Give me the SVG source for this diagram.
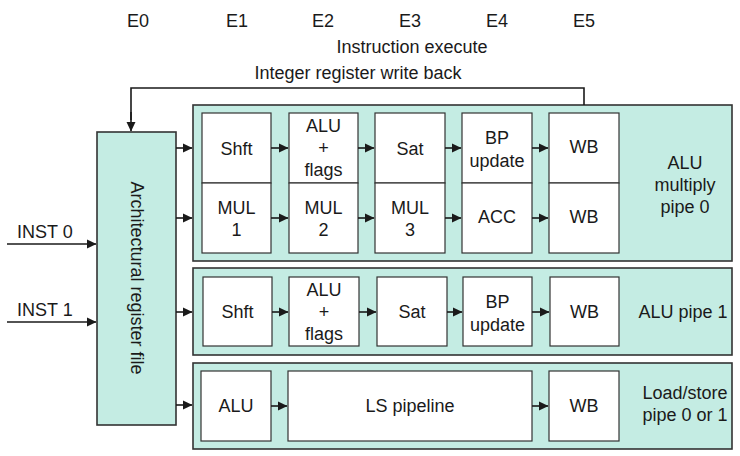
<svg xmlns="http://www.w3.org/2000/svg" width="740" height="456" viewBox="0 0 740 456">
<defs>
<marker id="ah" markerWidth="10" markerHeight="10" refX="9" refY="5" orient="auto" markerUnits="userSpaceOnUse">
<path d="M0,0.5 L9.5,5 L0,9.5 Z" fill="#1a1a1a"/>
</marker>
</defs>
<style>
text{font-family:"Liberation Sans",Arial,sans-serif;font-size:18px;fill:#1a1a1a}
.c{text-anchor:middle}
.teal{fill:#c4ece3;stroke:#333;stroke-width:1.6}
.box{fill:#fff;stroke:#333;stroke-width:1.2}
.ln{stroke:#1a1a1a;stroke-width:1.6;fill:none}
.ar{stroke:#1a1a1a;stroke-width:1.6;fill:none;marker-end:url(#ah)}
</style>
<rect width="740" height="456" fill="#fff"/>
<g id="stage-labels">
<text class="c" x="138" y="27">E0</text>
<text class="c" x="237" y="27">E1</text>
<text class="c" x="323" y="27">E2</text>
<text class="c" x="410" y="27">E3</text>
<text class="c" x="497" y="27">E4</text>
<text class="c" x="584" y="27">E5</text>
<text class="c" x="412" y="53">Instruction execute</text>
<text class="c" x="358" y="79">Integer register write back</text>
</g>
<g id="pipe0">
<rect class="teal" x="193" y="105" width="539" height="156"/>
<text class="c" x="685" y="169">ALU</text>
<text class="c" x="685" y="191">multiply</text>
<text class="c" x="685" y="213">pipe 0</text>
</g>
<g id="pipe1">
<rect class="teal" x="193" y="268" width="539" height="87"/>
<text class="c" x="683" y="318">ALU pipe 1</text>
</g>
<g id="lspipe">
<rect class="teal" x="193" y="363" width="539" height="86"/>
<text class="c" x="685" y="399">Load/store</text>
<text class="c" x="685" y="421">pipe 0 or 1</text>
</g>
<g id="regfile">
<rect class="teal" x="97" y="132" width="79" height="293"/>
<text class="c" transform="translate(131,278) rotate(90)">Architectural register file</text>
</g>
<g id="p0-shft"><rect class="box" x="202" y="113" width="69" height="70"/><text class="c" x="236.5" y="155">Shft</text></g>
<g id="p0-alu"><rect class="box" x="289" y="113" width="69" height="70"/><text class="c" x="323.5" y="132">ALU</text><text class="c" x="323.5" y="154">+</text><text class="c" x="323.5" y="176">flags</text></g>
<g id="p0-sat"><rect class="box" x="375" y="113" width="70" height="70"/><text class="c" x="410" y="155">Sat</text></g>
<g id="p0-bp"><rect class="box" x="462" y="113" width="70" height="70"/><text class="c" x="497" y="144">BP</text><text class="c" x="497" y="167">update</text></g>
<g id="p0-wb"><rect class="box" x="549" y="113" width="70" height="70"/><text class="c" x="584" y="153">WB</text></g>
<g id="p0-mul1"><rect class="box" x="202" y="183" width="69" height="70"/><text class="c" x="236.5" y="214">MUL</text><text class="c" x="236.5" y="236">1</text></g>
<g id="p0-mul2"><rect class="box" x="289" y="183" width="69" height="70"/><text class="c" x="323.5" y="214">MUL</text><text class="c" x="323.5" y="236">2</text></g>
<g id="p0-mul3"><rect class="box" x="375" y="183" width="70" height="70"/><text class="c" x="410" y="214">MUL</text><text class="c" x="410" y="236">3</text></g>
<g id="p0-acc"><rect class="box" x="462" y="183" width="70" height="70"/><text class="c" x="497" y="223">ACC</text></g>
<g id="p0-wb2"><rect class="box" x="549" y="183" width="70" height="70"/><text class="c" x="584" y="223">WB</text></g>
<g id="p1-shft"><rect class="box" x="203" y="277" width="69" height="69"/><text class="c" x="237.5" y="318">Shft</text></g>
<g id="p1-alu"><rect class="box" x="289" y="277" width="70" height="69"/><text class="c" x="324" y="296">ALU</text><text class="c" x="324" y="318">+</text><text class="c" x="324" y="340">flags</text></g>
<g id="p1-sat"><rect class="box" x="377" y="277" width="70" height="69"/><text class="c" x="412" y="318">Sat</text></g>
<g id="p1-bp"><rect class="box" x="463" y="277" width="69" height="69"/><text class="c" x="497.5" y="308">BP</text><text class="c" x="497.5" y="331">update</text></g>
<g id="p1-wb"><rect class="box" x="550" y="277" width="69" height="69"/><text class="c" x="584.5" y="318">WB</text></g>
<g id="ls-alu"><rect class="box" x="201" y="371" width="70" height="70"/><text class="c" x="236" y="412">ALU</text></g>
<g id="ls-pipe"><rect class="box" x="288" y="371" width="244" height="70"/><text class="c" x="410" y="412">LS pipeline</text></g>
<g id="ls-wb"><rect class="box" x="549" y="371" width="70" height="70"/><text class="c" x="584" y="412">WB</text></g>
<g id="inputs">
<text x="17" y="238">INST 0</text>
<text x="17" y="316">INST 1</text>
</g>
<g id="connectors">
<path class="ar" d="M7,244 H96"/>
<path class="ar" d="M7,322 H96"/>
<path class="ln" d="M584,105 V88 H131 V120"/>
<path class="ar" d="M131,112 V131"/>
<path class="ar" d="M176,148 H192"/>
<path class="ar" d="M176,218 H192"/>
<path class="ar" d="M176,312 H192"/>
<path class="ar" d="M176,405 H192"/>
<path class="ar" d="M271,148 H288"/>
<path class="ar" d="M358,148 H374"/>
<path class="ar" d="M445,148 H461"/>
<path class="ar" d="M532,148 H548"/>
<path class="ar" d="M271,218 H288"/>
<path class="ar" d="M358,218 H374"/>
<path class="ar" d="M445,218 H461"/>
<path class="ar" d="M532,218 H548"/>
<path class="ar" d="M272,312 H288"/>
<path class="ar" d="M359,312 H376"/>
<path class="ar" d="M447,312 H462"/>
<path class="ar" d="M532,312 H549"/>
<path class="ar" d="M271,406 H287"/>
<path class="ar" d="M532,406 H548"/>
</g>
</svg>
